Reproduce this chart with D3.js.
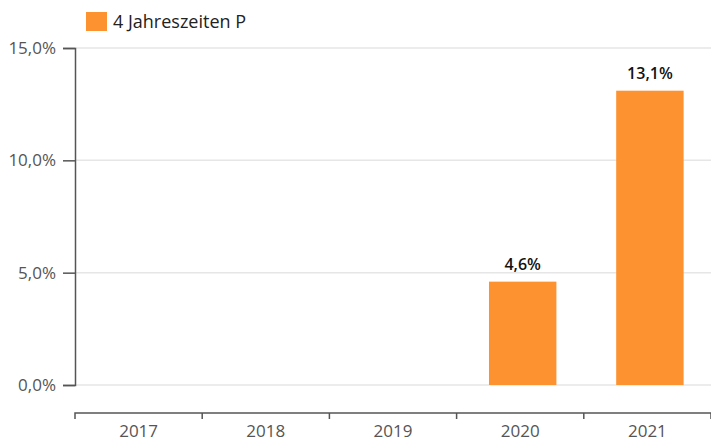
<!DOCTYPE html>
<meta charset="utf-8">
<script src="https://d3js.org/d3.v7.min.js"></script>
<style>
  body { margin: 0; background: #fff; font-family: "Open Sans", sans-serif; }
</style>
<body>
<div id="chart"></div>
<script>
// data
var years = ["2017", "2018", "2019", "2020", "2021"];
var values = [null, null, null, 4.6, 13.1];
var yTicks = [0, 5, 10, 15];
var seriesName = "4 Jahreszeiten P";

var W = 711, H = 442;
var margin = {top: 48, right: 0, bottom: 57, left: 75},
    width = W - margin.left - margin.right,
    height = H - margin.top - margin.bottom;

var fmt = function(v) { return v.toFixed(1).replace(".", ",") + "%"; };

var svg = d3.select("#chart").append("svg")
    .attr("width", W).attr("height", H);

var g = svg.append("g")
    .attr("transform", "translate(" + margin.left + "," + margin.top + ")");

// bars sit a touch right of the band centres
var x = d3.scaleBand().domain(years).range([2.5, width + 2.5]).paddingInner(0.47).paddingOuter(0.235);
var xb = d3.scaleBand().domain(years).range([0, width]);
var y = d3.scaleLinear().domain([0, 15]).range([height, 0]);

// gridlines
g.selectAll(".grid").data(yTicks).enter().append("line")
    .attr("x1", 0).attr("x2", width)
    .attr("y1", function(d) { return y(d); }).attr("y2", function(d) { return y(d); })
    .attr("stroke", "#e6e6e6").attr("stroke-width", 1.5);

// y axis
var yAxis = g.append("g")
    .call(d3.axisLeft(y).tickValues(yTicks).tickSize(12).tickPadding(7).tickFormat(fmt));
yAxis.select(".domain").attr("stroke", "#555").attr("stroke-width", 1.5);
yAxis.selectAll(".tick line").attr("stroke", "#555").attr("stroke-width", 1.5);
yAxis.selectAll("text").attr("fill", "#555").style("font-size", "17px").style("font-family", "Open Sans");

// x axis
var xAxis = g.append("g")
    .attr("transform", "translate(0," + (height + 28) + ")")
    .call(d3.axisBottom(xb).tickSize(0).tickPadding(12));
xAxis.select(".domain").attr("stroke", "#555").attr("stroke-width", 1.5)
    .attr("d", "M0,6V0H" + width + "V6");
xAxis.selectAll("text").attr("fill", "#555").style("font-size", "17px").style("font-family", "Open Sans");
xAxis.selectAll(".sep").data(years.slice(1)).enter().append("line")
    .attr("x1", function(d) { return xb(d); }).attr("x2", function(d) { return xb(d); })
    .attr("y1", 0).attr("y2", 6)
    .attr("stroke", "#555").attr("stroke-width", 1.5);

// bars
var data = years.map(function(d, i) { return {year: d, value: values[i]}; })
    .filter(function(d) { return d.value != null; });

g.selectAll(".bar").data(data).enter().append("rect")
    .attr("x", function(d) { return x(d.year); })
    .attr("width", x.bandwidth())
    .attr("y", function(d) { return y(d.value); })
    .attr("height", function(d) { return height - y(d.value); })
    .attr("fill", "#fd9230");

g.selectAll(".lbl").data(data).enter().append("text")
    .attr("x", function(d) { return x(d.year) + x.bandwidth() / 2; })
    .attr("y", function(d) { return y(d.value) - 12; })
    .attr("text-anchor", "middle")
    .style("font-size", "16px").style("font-weight", "600").style("font-family", "Open Sans")
    .attr("fill", "#111")
    .text(function(d) { return fmt(d.value); });

// legend
var lg = svg.append("g").attr("transform", "translate(86,12)");
lg.append("rect").attr("width", 21).attr("height", 19).attr("fill", "#fd9230");
lg.append("text").attr("x", 27).attr("y", 16)
    .style("font-size", "18px").style("font-family", "Open Sans").attr("fill", "#222")
    .text(seriesName);
</script>
</body>
